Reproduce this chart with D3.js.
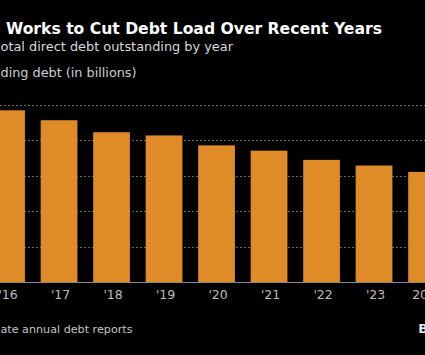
<!DOCTYPE html>
<html>
<head>
<meta charset="utf-8">
<script src="https://cdn.jsdelivr.net/npm/d3@7/dist/d3.min.js"></script>
<style>
  html, body { margin: 0; padding: 0; background: #000; overflow: hidden; }
  svg { display: block; }
</style>
</head>
<body>
<script>
// ---- data (y-axis labels are cropped, values in billions) ----
const years = ["'16", "'17", "'18", "'19", "'20", "'21", "'22", "'23", "2024"];
const debt = [48.5, 45.7, 42.3, 41.4, 38.6, 37.1, 34.5, 32.9, 31.1];
const gridTicks = [0, 10, 20, 30, 40, 50];

const titleText = "Works to Cut Debt Load Over Recent Years";
const subtitleText = "otal direct debt outstanding by year";
const yLabelText = "ding debt (in billions)";
const sourceText = "ate annual debt reports";
const brandText = "Bloomberg";

const W = 425, H = 355;
const FONT = "'DejaVu Sans', Verdana, sans-serif";

const svg = d3.select("body").append("svg").attr("width", W).attr("height", H);
svg.append("rect").attr("width", W).attr("height", H).attr("fill", "#000");

const x = d3.scaleBand().domain(years).range([-19.7, 452.8]).paddingInner(0.3).paddingOuter(0.15);
const y = d3.scaleLinear().domain([0, 50]).range([282, 105]);

// gridlines
const g = svg.append("g");
g.selectAll("line.grid").data(gridTicks.filter(d => d > 0)).join("line")
  .attr("class", "grid")
  .attr("x1", 0).attr("x2", W)
  .attr("y1", d => Math.round(y(d)) + 0.5).attr("y2", d => Math.round(y(d)) + 0.5)
  .attr("stroke", "#6a6a6a").attr("stroke-width", 1).attr("stroke-dasharray", "2,2");

// bars
g.selectAll("rect.bar").data(debt).join("rect")
  .attr("class", "bar")
  .attr("x", (d, i) => x(years[i]))
  .attr("width", x.bandwidth())
  .attr("y", d => y(d))
  .attr("height", d => y(0) - y(d))
  .attr("fill", "#df8b27");

// baseline
g.append("line").attr("x1", 0).attr("x2", W)
  .attr("y1", y(0) + 0.5).attr("y2", y(0) + 0.5)
  .attr("stroke", "#8a8a8a").attr("stroke-width", 1);

// x axis labels
const xAxis = d3.axisBottom(x).tickSize(0).tickPadding(0);
const xg = svg.append("g").attr("transform", `translate(1.5,${y(0)})`).call(xAxis);
xg.select(".domain").remove();
xg.selectAll("text")
  .attr("y", 17).attr("dy", 0)
  .attr("fill", "#bdbdbd")
  .style("font-family", FONT).style("font-size", "12.5px");

// helper to fit text width
function fitText(sel, target, start) {
  let size = start;
  sel.style("font-size", size + "px");
  for (let k = 0; k < 3; k++) {
    const w = sel.node().getComputedTextLength();
    if (w > 0) { size = size * target / w; sel.style("font-size", size + "px"); }
  }
}

const title = svg.append("text").text(titleText)
  .attr("x", 6).attr("y", 34.3).attr("fill", "#ffffff")
  .style("font-family", FONT).style("font-weight", "bold");
fitText(title, 376, 16);

const sub = svg.append("text").text(subtitleText)
  .attr("x", 0.5).attr("y", 50.5).attr("fill", "#d9d9d9")
  .style("font-family", FONT);
fitText(sub, 232.5, 14);

const ylab = svg.append("text").text(yLabelText)
  .attr("x", 0.5).attr("y", 76.5).attr("fill", "#cfcfcf")
  .style("font-family", FONT);
fitText(ylab, 136, 13);

const src = svg.append("text").text(sourceText)
  .attr("x", 0.5).attr("y", 332.7).attr("fill", "#c4c4c4")
  .style("font-family", FONT);
fitText(src, 132, 13);

svg.append("text").text(brandText)
  .attr("x", 418.3).attr("y", 332.7).attr("fill", "#e6e6e6")
  .style("font-family", FONT).style("font-weight", "bold").style("font-size", "13px");
</script>
</body>
</html>
